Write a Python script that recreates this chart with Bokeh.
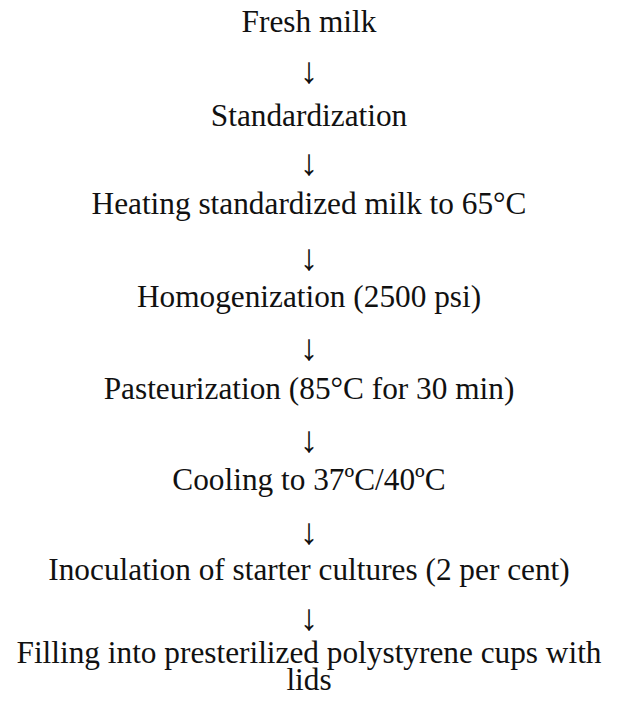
from bokeh.plotting import figure
from bokeh.models import Range1d, ColumnDataSource
from bokeh.core.properties import value
from bokeh.embed import file_html
from bokeh.resources import INLINE

# Flow steps (top to bottom)
steps = [
    "Fresh milk",
    "Standardization",
    "Heating standardized milk to 65°C",
    "Homogenization (2500 psi)",
    "Pasteurization (85°C for 30 min)",
    "Cooling to 37ºC/40ºC",
    "Inoculation of starter cultures (2 per cent)",
    "Filling into presterilized polystyrene cups with",
    "lids",
]
arrow_glyph = "↓"

# layout (pixel positions within the figure, y downwards)
W, H = 603, 699
cx = 308.5
baselines = [21, 115, 203, 296, 388, 479, 569, 652, 679]
arrow_mid = [70, 162, 257, 347, 439, 531, 617]

p = figure(width=W, height=H, output_backend="svg", toolbar_location=None,
           title=None,
           x_range=Range1d(0, W), y_range=Range1d(H, 0),
           min_border=0, outline_line_color=None)
p.axis.visible = False
p.grid.visible = False

FONT = value("Liberation Serif")

src = ColumnDataSource(dict(x=[cx] * len(steps), y=baselines, t=steps))
p.text(x="x", y="y", text="t", source=src, text_font=FONT, text_font_size="31.3px",
       text_align="center", text_baseline="alphabetic", text_color="#111111")

asrc = ColumnDataSource(dict(x=[cx] * len(arrow_mid), y=arrow_mid, t=[arrow_glyph] * len(arrow_mid)))
p.text(x="x", y="y", text="t", source=asrc, text_font=FONT, text_font_size="37px",
       text_align="center", text_baseline="middle", text_color="#111111")

open("out.html", "w").write(file_html(p, INLINE))
